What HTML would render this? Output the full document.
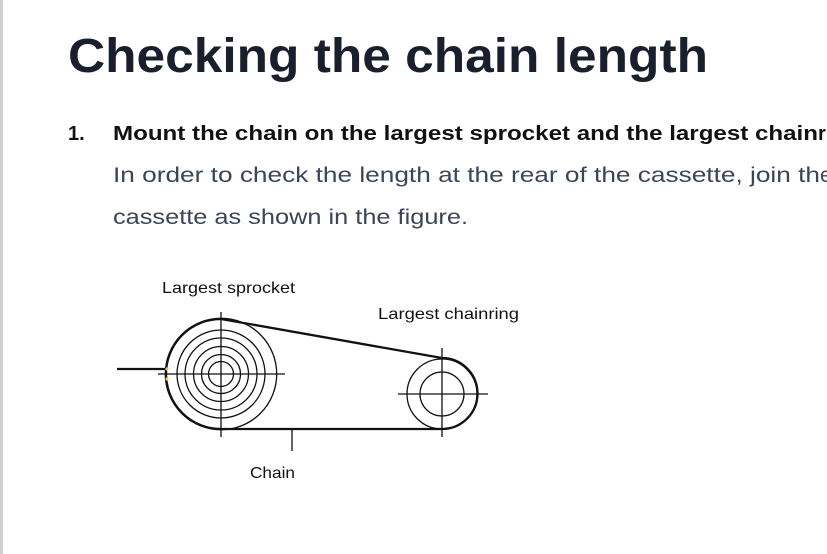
<!DOCTYPE html>
<html><head><meta charset="utf-8"><style>
html,body{margin:0;padding:0;background:#fff;width:827px;height:554px;overflow:hidden}
svg{display:block}
</style></head><body>
<svg width="827" height="554" viewBox="0 0 827 554" xmlns="http://www.w3.org/2000/svg" font-family="Liberation Sans, sans-serif">
<rect x="0" y="0" width="3" height="554" fill="#d0d0d0"/>
<text x="68" y="72" font-size="48" font-weight="bold" fill="#1a1f2e" textLength="640" lengthAdjust="spacingAndGlyphs">Checking the chain length</text>
<text x="68" y="140" font-size="20" font-weight="bold" fill="#111">1.</text>
<text x="113" y="140" font-size="20" font-weight="bold" fill="#111" textLength="705" lengthAdjust="spacingAndGlyphs">Mount the chain on the largest sprocket and the largest chain</text>
<text x="818" y="140" font-size="20" font-weight="bold" fill="#111">r</text>
<text x="113" y="182" font-size="21" fill="#3a4658" textLength="707" lengthAdjust="spacingAndGlyphs">In order to check the length at the rear of the cassette, join th</text>
<text x="820" y="182" font-size="21" fill="#3a4658">e</text>
<text x="113" y="224" font-size="21" fill="#3a4658" textLength="355" lengthAdjust="spacingAndGlyphs">cassette as shown in the figure.</text>
<text x="162" y="293" font-size="16" fill="#111" textLength="133" lengthAdjust="spacingAndGlyphs">Largest sprocket</text>
<text x="378" y="319" font-size="16" fill="#111" textLength="141" lengthAdjust="spacingAndGlyphs">Largest chainring</text>
<text x="250" y="478" font-size="16" fill="#111" textLength="45" lengthAdjust="spacingAndGlyphs">Chain</text>
<g fill="none" stroke="#111">
<g stroke-width="1.3">
<circle cx="221" cy="374" r="55.7"/>
<circle cx="221" cy="374" r="44"/>
<circle cx="221" cy="374" r="36"/>
<circle cx="221" cy="374" r="27.5"/>
<circle cx="221" cy="374" r="19.5"/>
<circle cx="221" cy="374" r="12.5"/>
<circle cx="442" cy="394" r="35"/>
<circle cx="442" cy="394" r="22"/>
<line x1="158" y1="374" x2="285" y2="374"/>
<line x1="221" y1="312" x2="221" y2="437"/>
<line x1="398" y1="394" x2="488" y2="394"/>
<line x1="442" y1="348" x2="442" y2="437"/>
<line x1="292" y1="429" x2="292" y2="451"/>
</g>
<path d="M221 319 L442 358 A35.5 35.5 0 0 1 442 429 L221 429 A55 55 0 0 1 221 319 Z" stroke-width="2.3"/>
<line x1="117" y1="369" x2="166" y2="369" stroke-width="2.3"/>
</g>
<circle cx="167" cy="369" r="1.6" fill="#f0c070"/>
<circle cx="167" cy="379" r="1.6" fill="#f0c070"/>
</svg>
</body></html>
